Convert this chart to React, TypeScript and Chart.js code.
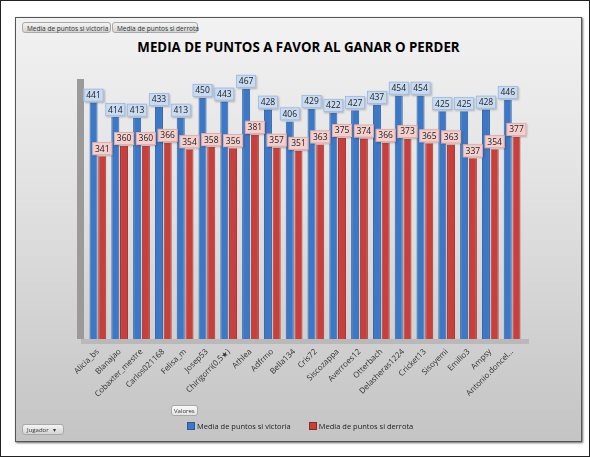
import React, { useEffect, useRef } from "react";
import { Chart, registerables } from "chart.js";

Chart.register(...registerables);

const players = [
  "Alicia_bs", "Blanajao", "Cobaxter_mestre", "Carlos021168", "Felisa_m", "Josep53",
  "Chirigorri(0,5★)", "Athlea", "Adfrmo", "Bella134", "Cris72", "Siscozappa",
  "Averroes12", "Otterbach", "Delasheras1224", "Cricket13", "Sisoyemi", "Emilio3",
  "Ampsy", "Antonio.doncel...",
];
const victoria = [441, 414, 413, 433, 413, 450, 443, 467, 428, 406, 429, 422, 427, 437, 454, 454, 425, 425, 428, 446];
const derrota = [341, 360, 360, 366, 354, 358, 356, 381, 357, 351, 363, 375, 374, 366, 373, 365, 363, 337, 354, 377];
const seriesNames = ["Media de puntos si victoria", "Media de puntos si derrota"];
const title = "MEDIA DE PUNTOS A FAVOR AL GANAR O PERDER";

const labelPlugin = {
  id: "valueLabels",
  beforeDatasetsDraw(chart: any) {
    const { ctx, chartArea } = chart;
    ctx.save();
    ctx.fillStyle = "#9a9a9a";
    ctx.fillRect(chartArea.left - 10, chartArea.top + 8, 7, chartArea.bottom - chartArea.top - 8);
    ctx.fillStyle = "#b9b9b9";
    ctx.fillRect(chartArea.left - 6, chartArea.bottom, chartArea.right - chartArea.left + 12, 5);
    ctx.restore();
  },
  afterDatasetsDraw(chart: any) {
    const { ctx } = chart;
    ctx.save();
    ctx.font = "8.5px 'Open Sans', sans-serif";
    ctx.textAlign = "center";
    ctx.textBaseline = "middle";
    const styles = [
      { bg: "#c9dbf1", border: "#8eaedb" },
      { bg: "#f3cfcd", border: "#d89a97" },
    ];
    [1, 0].forEach((di) => {
      const meta = chart.getDatasetMeta(di);
      const data = chart.data.datasets[di].data;
      meta.data.forEach((el: any, i: number) => {
        const w = 20, h = 13;
        const cx = el.x;
        const top = el.y - h - 1;
        ctx.shadowColor = "rgba(0,0,0,0.25)";
        ctx.shadowBlur = 2;
        ctx.shadowOffsetX = 1;
        ctx.shadowOffsetY = 1;
        ctx.fillStyle = styles[di].bg;
        ctx.fillRect(cx - w / 2, top, w, h);
        ctx.shadowColor = "transparent";
        ctx.strokeStyle = styles[di].border;
        ctx.lineWidth = 0.6;
        ctx.strokeRect(cx - w / 2 + 0.5, top + 0.5, w - 1, h - 1);
        ctx.fillStyle = "#222";
        ctx.fillText(String(data[i]), cx, top + h / 2 + 0.5);
      });
    });
    ctx.restore();
  },
};

function ChartView() {
  const ref = useRef<HTMLCanvasElement>(null);
  useEffect(() => {
    if (!ref.current) return;
    const chart = new Chart(ref.current, {
      type: "bar",
      data: {
        labels: players,
        datasets: [
          {
            label: seriesNames[0],
            data: victoria,
            backgroundColor: "#3d78c6",
            borderColor: "#2d62a8",
            borderWidth: { left: 1, right: 1, top: 0, bottom: 0 },
            categoryPercentage: 0.8,
            barPercentage: 0.92,
          },
          {
            label: seriesNames[1],
            data: derrota,
            backgroundColor: "#c8403b",
            borderColor: "#a32f2b",
            borderWidth: { left: 1, right: 1, top: 0, bottom: 0 },
            categoryPercentage: 0.8,
            barPercentage: 0.92,
          },
        ],
      },
      options: {
        animation: false,
        responsive: false,
        maintainAspectRatio: false,
        layout: { padding: { left: 72, right: 58, top: 15, bottom: 0 } },
        plugins: { legend: { display: false }, tooltip: { enabled: false } },
        scales: {
          x: {
            grid: { display: false, drawTicks: false },
            border: { display: false },
            ticks: {
              minRotation: 45,
              maxRotation: 45,
              autoSkip: false,
              padding: 8,
              color: "#333",
              font: { size: 8, family: "'Open Sans', sans-serif" },
            },
            afterFit(scale: any) {
              scale.height = 102;
            },
          },
          y: {
            display: false,
            min: 0,
            max: 500,
          },
        },
      },
      plugins: [labelPlugin],
    });
    return () => chart.destroy();
  }, []);
  return <canvas ref={ref} width={566} height={385} style={{ position: "absolute", left: 14, top: 55, width: 566, height: 385 }} />;
}

const btn: React.CSSProperties = {
  position: "absolute",
  height: 11,
  fontSize: 6.5,
  lineHeight: "11px",
  fontFamily: "'Open Sans', sans-serif",
  color: "#333",
  background: "linear-gradient(#f4f4f4, #d4d4d4)",
  border: "1px solid #a8a8a8",
  borderRadius: 3,
  paddingLeft: 4,
  boxSizing: "border-box",
  whiteSpace: "nowrap",
};

export default function App() {
  return (
    <div style={{ position: "absolute", left: 0, top: 0, width: 590, height: 457, background: "#fff", border: "1px solid #222", boxSizing: "border-box", overflow: "hidden" }}>
      <div
        style={{
          position: "absolute",
          left: 14,
          top: 16,
          width: 567,
          height: 425,
          boxSizing: "border-box",
          border: "1px solid #555",
          boxShadow: "1px 1px 2px #666",
          background: "linear-gradient(#f2f2f2 0%, #e2e2e2 40%, #c4c4c4 100%)",
        }}
      />
      <div style={{ ...btn, left: 21, top: 21, width: 89 }}>{seriesNames[0]}</div>
      <div style={{ ...btn, left: 111, top: 21, width: 86 }}>{seriesNames[1]}</div>
      <div
        style={{
          position: "absolute",
          left: 14,
          width: 567,
          top: 37,
          textAlign: "center",
          fontFamily: "'Open Sans', sans-serif",
          fontWeight: 700,
          fontSize: 13.3,
          color: "#000",
        }}
      >
        {title}
      </div>
      <ChartView />
      <div style={{ ...btn, left: 170, top: 404, width: 27, fontSize: 6, paddingLeft: 2, background: "linear-gradient(#fafafa,#e4e4e4)" }}>Valores</div>
      <div style={{ ...btn, left: 21, top: 423, width: 42, fontSize: 6, paddingLeft: 4 }}>Jugador &nbsp;&nbsp;▾</div>
      <div style={{ position: "absolute", top: 420, left: 186, fontFamily: "'Open Sans', sans-serif", fontSize: 7.5, color: "#222", display: "flex", alignItems: "center", whiteSpace: "nowrap" }}>
        <span style={{ display: "inline-block", width: 6, height: 6, background: "#3d78c6", border: "0.5px solid #2a5a9a", marginRight: 2 }} />
        <span style={{ marginRight: 18 }}>{seriesNames[0]}</span>
        <span style={{ display: "inline-block", width: 6, height: 6, background: "#c8403b", border: "0.5px solid #8a2a27", marginRight: 2 }} />
        <span>{seriesNames[1]}</span>
      </div>
    </div>
  );
}
